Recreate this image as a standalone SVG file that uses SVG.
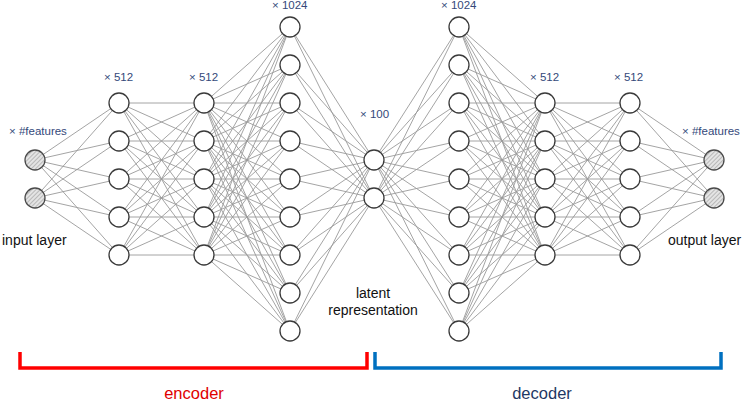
<svg xmlns="http://www.w3.org/2000/svg" width="748" height="402" viewBox="0 0 748 402">
<style>
.n{fill:#fff;stroke:#3a3a3a;stroke-width:1.3}
.h{fill:url(#hatch);stroke:#4a4a4a;stroke-width:1.3}
.c{fill:none;stroke:#9a9a9a;stroke-width:0.9}
.m{font-family:"Liberation Sans",Arial,sans-serif;font-size:11.5px;fill:#34497A}
.t{font-family:"Liberation Sans",Arial,sans-serif;font-size:14px;fill:#111}
.b{font-family:"Liberation Sans",Arial,sans-serif;font-size:16.5px}
</style>
<defs>
<pattern id="hatch" patternUnits="userSpaceOnUse" width="3" height="3" patternTransform="rotate(45)">
<rect width="3" height="3" fill="#e4e4e4"/>
<line x1="0" y1="0" x2="0" y2="3" stroke="#9a9a9a" stroke-width="1.2"/>
</pattern>
</defs>
<rect width="748" height="402" fill="#fff"/>
<g id="connectors">
<path class="c" d="M35 160L119 103M35 160L119 141M35 160L119 179M35 160L119 217M35 160L119 255M35 198L119 103M35 198L119 141M35 198L119 179M35 198L119 217M35 198L119 255"/>
<path class="c" d="M119 103L204 103M119 103L204 141M119 103L204 179M119 103L204 217M119 103L204 255M119 141L204 103M119 141L204 141M119 141L204 179M119 141L204 217M119 141L204 255M119 179L204 103M119 179L204 141M119 179L204 179M119 179L204 217M119 179L204 255M119 217L204 103M119 217L204 141M119 217L204 179M119 217L204 217M119 217L204 255M119 255L204 103M119 255L204 141M119 255L204 179M119 255L204 217M119 255L204 255"/>
<path class="c" d="M204 103L290 27M204 103L290 65M204 103L290 103M204 103L290 141M204 103L290 179M204 103L290 217M204 103L290 255M204 103L290 293M204 103L290 331M204 141L290 27M204 141L290 65M204 141L290 103M204 141L290 141M204 141L290 179M204 141L290 217M204 141L290 255M204 141L290 293M204 141L290 331M204 179L290 27M204 179L290 65M204 179L290 103M204 179L290 141M204 179L290 179M204 179L290 217M204 179L290 255M204 179L290 293M204 179L290 331M204 217L290 27M204 217L290 65M204 217L290 103M204 217L290 141M204 217L290 179M204 217L290 217M204 217L290 255M204 217L290 293M204 217L290 331M204 255L290 27M204 255L290 65M204 255L290 103M204 255L290 141M204 255L290 179M204 255L290 217M204 255L290 255M204 255L290 293M204 255L290 331"/>
<path class="c" d="M290 27L374 160M290 65L374 160M290 103L374 160M290 141L374 160M290 179L374 160M290 217L374 160M290 255L374 160M290 293L374 160M290 331L374 160M290 27L374 198M290 65L374 198M290 103L374 198M290 141L374 198M290 179L374 198M290 217L374 198M290 255L374 198M290 293L374 198M290 331L374 198"/>
<path class="c" d="M374 160L459 27M374 160L459 65M374 160L459 103M374 160L459 141M374 160L459 179M374 160L459 217M374 160L459 255M374 160L459 293M374 160L459 331M374 198L459 27M374 198L459 65M374 198L459 103M374 198L459 141M374 198L459 179M374 198L459 217M374 198L459 255M374 198L459 293M374 198L459 331"/>
<path class="c" d="M459 27L545 103M459 65L545 103M459 103L545 103M459 141L545 103M459 179L545 103M459 217L545 103M459 255L545 103M459 293L545 103M459 331L545 103M459 27L545 141M459 65L545 141M459 103L545 141M459 141L545 141M459 179L545 141M459 217L545 141M459 255L545 141M459 293L545 141M459 331L545 141M459 27L545 179M459 65L545 179M459 103L545 179M459 141L545 179M459 179L545 179M459 217L545 179M459 255L545 179M459 293L545 179M459 331L545 179M459 27L545 217M459 65L545 217M459 103L545 217M459 141L545 217M459 179L545 217M459 217L545 217M459 255L545 217M459 293L545 217M459 331L545 217M459 27L545 255M459 65L545 255M459 103L545 255M459 141L545 255M459 179L545 255M459 217L545 255M459 255L545 255M459 293L545 255M459 331L545 255"/>
<path class="c" d="M545 103L630 103M545 103L630 141M545 103L630 179M545 103L630 217M545 103L630 255M545 141L630 103M545 141L630 141M545 141L630 179M545 141L630 217M545 141L630 255M545 179L630 103M545 179L630 141M545 179L630 179M545 179L630 217M545 179L630 255M545 217L630 103M545 217L630 141M545 217L630 179M545 217L630 217M545 217L630 255M545 255L630 103M545 255L630 141M545 255L630 179M545 255L630 217M545 255L630 255"/>
<path class="c" d="M630 103L714 160M630 141L714 160M630 179L714 160M630 217L714 160M630 255L714 160M630 103L714 198M630 141L714 198M630 179L714 198M630 217L714 198M630 255L714 198"/>
</g>
<g id="input-layer">
<circle class="h" cx="35" cy="160" r="10"/>
<circle class="h" cx="35" cy="198" r="10"/>
<text class="m" x="9" y="135">× #features</text>
<text class="t" x="2" y="245">input layer</text>
</g>
<g id="encoder-hidden-1">
<circle class="n" cx="119" cy="103" r="10"/>
<circle class="n" cx="119" cy="141" r="10"/>
<circle class="n" cx="119" cy="179" r="10"/>
<circle class="n" cx="119" cy="217" r="10"/>
<circle class="n" cx="119" cy="255" r="10"/>
<text class="m" x="104" y="81">× 512</text>
</g>
<g id="encoder-hidden-2">
<circle class="n" cx="204" cy="103" r="10"/>
<circle class="n" cx="204" cy="141" r="10"/>
<circle class="n" cx="204" cy="179" r="10"/>
<circle class="n" cx="204" cy="217" r="10"/>
<circle class="n" cx="204" cy="255" r="10"/>
<text class="m" x="189" y="81">× 512</text>
</g>
<g id="encoder-hidden-3">
<circle class="n" cx="290" cy="27" r="10"/>
<circle class="n" cx="290" cy="65" r="10"/>
<circle class="n" cx="290" cy="103" r="10"/>
<circle class="n" cx="290" cy="141" r="10"/>
<circle class="n" cx="290" cy="179" r="10"/>
<circle class="n" cx="290" cy="217" r="10"/>
<circle class="n" cx="290" cy="255" r="10"/>
<circle class="n" cx="290" cy="293" r="10"/>
<circle class="n" cx="290" cy="331" r="10"/>
<text class="m" x="272" y="9">× 1024</text>
</g>
<g id="latent">
<circle class="n" cx="374" cy="160" r="10"/>
<circle class="n" cx="374" cy="198" r="10"/>
<text class="m" x="360" y="118">× 100</text>
<text class="t" x="373" y="298" text-anchor="middle">latent</text>
<text class="t" x="373" y="315" text-anchor="middle">representation</text>
</g>
<g id="decoder-hidden-1">
<circle class="n" cx="459" cy="27" r="10"/>
<circle class="n" cx="459" cy="65" r="10"/>
<circle class="n" cx="459" cy="103" r="10"/>
<circle class="n" cx="459" cy="141" r="10"/>
<circle class="n" cx="459" cy="179" r="10"/>
<circle class="n" cx="459" cy="217" r="10"/>
<circle class="n" cx="459" cy="255" r="10"/>
<circle class="n" cx="459" cy="293" r="10"/>
<circle class="n" cx="459" cy="331" r="10"/>
<text class="m" x="441" y="9">× 1024</text>
</g>
<g id="decoder-hidden-2">
<circle class="n" cx="545" cy="103" r="10"/>
<circle class="n" cx="545" cy="141" r="10"/>
<circle class="n" cx="545" cy="179" r="10"/>
<circle class="n" cx="545" cy="217" r="10"/>
<circle class="n" cx="545" cy="255" r="10"/>
<text class="m" x="530" y="81">× 512</text>
</g>
<g id="decoder-hidden-3">
<circle class="n" cx="630" cy="103" r="10"/>
<circle class="n" cx="630" cy="141" r="10"/>
<circle class="n" cx="630" cy="179" r="10"/>
<circle class="n" cx="630" cy="217" r="10"/>
<circle class="n" cx="630" cy="255" r="10"/>
<text class="m" x="614" y="81">× 512</text>
</g>
<g id="output-layer">
<circle class="h" cx="714" cy="160" r="10"/>
<circle class="h" cx="714" cy="198" r="10"/>
<text class="m" x="682" y="135">× #features</text>
<text class="t" x="668" y="245">output layer</text>
</g>
<g id="encoder-bracket">
<path d="M20 352V368H367V352" fill="none" stroke="#FF0000" stroke-width="3.5"/>
<text class="b" x="194" y="399" text-anchor="middle" fill="#E00000">encoder</text>
</g>
<g id="decoder-bracket">
<path d="M375 352V368H721V352" fill="none" stroke="#0070C0" stroke-width="3.5"/>
<text class="b" x="542" y="399" text-anchor="middle" fill="#1F3864">decoder</text>
</g>
</svg>
